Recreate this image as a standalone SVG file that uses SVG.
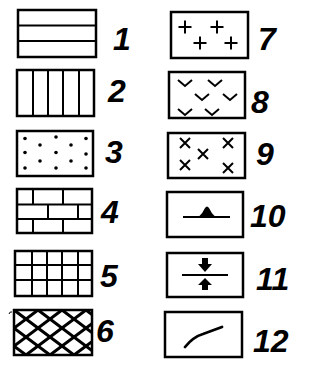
<svg xmlns="http://www.w3.org/2000/svg" width="333" height="366" viewBox="0 0 333 366">
<style>
.box{fill:none;stroke:#000;stroke-width:2.5}
.ln{fill:none;stroke:#000;stroke-width:2}
.thick{fill:none;stroke:#000;stroke-width:2.8;stroke-linecap:round}
.lbl{font-family:"Liberation Sans",Arial,sans-serif;font-style:italic;font-weight:bold;font-size:32px;fill:#000}
.dot{fill:#000}
</style>
<defs>
<clipPath id="c6"><rect x="15" y="311" width="76" height="43"/></clipPath>
</defs>
<rect width="333" height="366" fill="#fff"/>

<g id="n1">
<rect class="box" x="18" y="10" width="78" height="47"/>
<line class="ln" x1="18" y1="25.5" x2="96" y2="25.5"/>
<line class="ln" x1="18" y1="41" x2="96" y2="41"/>
<text class="lbl" x="113" y="50">1</text>
</g>

<g id="n2">
<rect class="box" x="17" y="70" width="77" height="46"/>
<line class="ln" x1="33" y1="70" x2="33" y2="116"/>
<line class="ln" x1="48" y1="70" x2="48" y2="116"/>
<line class="ln" x1="63" y1="70" x2="63" y2="116"/>
<line class="ln" x1="79" y1="70" x2="79" y2="116"/>
<text class="lbl" x="108" y="102">2</text>
</g>

<g id="n3">
<rect class="box" x="17" y="131" width="76" height="45"/>
<g class="dot">
<circle cx="25" cy="138.5" r="1.8"/><circle cx="56" cy="137" r="1.8"/><circle cx="86" cy="138.5" r="1.8"/>
<circle cx="40" cy="145" r="1.8"/><circle cx="71" cy="145" r="1.8"/>
<circle cx="25" cy="152.5" r="1.8"/><circle cx="56" cy="152.5" r="1.8"/><circle cx="86" cy="154" r="1.8"/>
<circle cx="40" cy="161" r="1.8"/><circle cx="71" cy="161" r="1.8"/>
<circle cx="25" cy="168" r="1.8"/><circle cx="56" cy="168" r="1.8"/><circle cx="86" cy="168" r="1.8"/>
</g>
<text class="lbl" x="105" y="163">3</text>
</g>

<g id="n4">
<rect class="box" x="17" y="189" width="75" height="44"/>
<line class="ln" x1="17" y1="204.5" x2="92" y2="204.5"/>
<line class="ln" x1="17" y1="219" x2="92" y2="219"/>
<line class="ln" x1="33" y1="189" x2="33" y2="204.5"/>
<line class="ln" x1="63" y1="189" x2="63" y2="204.5"/>
<line class="ln" x1="48" y1="204.5" x2="48" y2="219"/>
<line class="ln" x1="78" y1="204.5" x2="78" y2="219"/>
<line class="ln" x1="33" y1="219" x2="33" y2="233"/>
<line class="ln" x1="63" y1="219" x2="63" y2="233"/>
<text class="lbl" x="101" y="223">4</text>
</g>

<g id="n5">
<rect class="box" x="15" y="251" width="77" height="45"/>
<line class="ln" x1="15" y1="265" x2="92" y2="265"/>
<line class="ln" x1="15" y1="280" x2="92" y2="280"/>
<line class="ln" x1="32" y1="251" x2="32" y2="296"/>
<line class="ln" x1="47" y1="251" x2="47" y2="296"/>
<line class="ln" x1="62" y1="251" x2="62" y2="296"/>
<line class="ln" x1="78" y1="251" x2="78" y2="296"/>
<text class="lbl" x="100" y="287">5</text>
</g>

<g id="n6">
<g clip-path="url(#c6)" stroke="#000" stroke-width="3" fill="none">
<path d="M-58,310 l60,45 M-34,310 l60,45 M-10,310 l60,45 M14,310 l60,45 M38,310 l60,45 M62,310 l60,45 M86,310 l60,45"/>
<path d="M-46,355 l60,-45 M-22,355 l60,-45 M2,355 l60,-45 M26,355 l60,-45 M50,355 l60,-45 M74,355 l60,-45"/>
</g>
<rect class="box" x="14" y="310" width="78" height="45"/>
<path d="M9,314 q1,-3 3,-2" fill="none" stroke="#000" stroke-width="1"/>
<text class="lbl" x="96" y="342">6</text>
</g>

<g id="n7">
<rect class="box" x="171" y="12" width="77" height="46"/>
<path class="ln" d="M178.5,27 h13 M185,20.5 v13 M210.5,27 h13 M217,20.5 v13 M193.5,43 h13 M200,36.5 v13 M224.5,43 h13 M231,36.5 v13"/>
<text class="lbl" x="258" y="50">7</text>
</g>

<g id="n8">
<rect class="box" x="169" y="72" width="76" height="46"/>
<path class="ln" d="M178,80 l7,6 l7,-6 M208,80 l7,6 l7,-6 M195,94 l7,6 l7,-6 M223,94 l7,6 l7,-6 M178,109 l7,6 l7,-6 M205,109 l7,6 l7,-6"/>
<text class="lbl" x="251" y="113">8</text>
</g>

<g id="n9">
<rect class="box" x="168" y="133" width="77" height="45"/>
<path class="ln" d="M180,138 l10,10 M190,138 l-10,10 M223,138 l10,10 M233,138 l-10,10 M198,149 l10,10 M208,149 l-10,10 M180,160 l10,10 M190,160 l-10,10 M223,163 l10,10 M233,163 l-10,10"/>
<text class="lbl" x="256" y="165">9</text>
</g>

<g id="n10">
<rect class="box" x="167" y="192" width="76" height="45"/>
<line class="ln" x1="183" y1="217" x2="230" y2="217" stroke-width="2.4"/>
<path d="M198,217.5 Q203,213 205,208 Q207,205 209,208 Q211,213 216,217.5 Z" fill="#000"/>
<text class="lbl" x="250" y="227">10</text>
</g>

<g id="n11">
<rect class="box" x="167" y="253" width="76" height="44"/>
<line class="ln" x1="182" y1="275" x2="228" y2="275" stroke-width="2.4"/>
<path d="M202,258 h6 v6 h4 l-7,8 l-7,-8 h4 z" fill="#000"/>
<path d="M205,278 l7,7 h-4 v5 h-6 v-5 h-4 z" fill="#000"/>
<text class="lbl" x="256" y="290">11</text>
</g>

<g id="n12">
<rect class="box" x="165" y="312" width="77" height="45"/>
<path class="thick" d="M185,347 Q193,337 203,334 L222,327" stroke-width="3"/>
<text class="lbl" x="253" y="352">12</text>
</g>
</svg>
